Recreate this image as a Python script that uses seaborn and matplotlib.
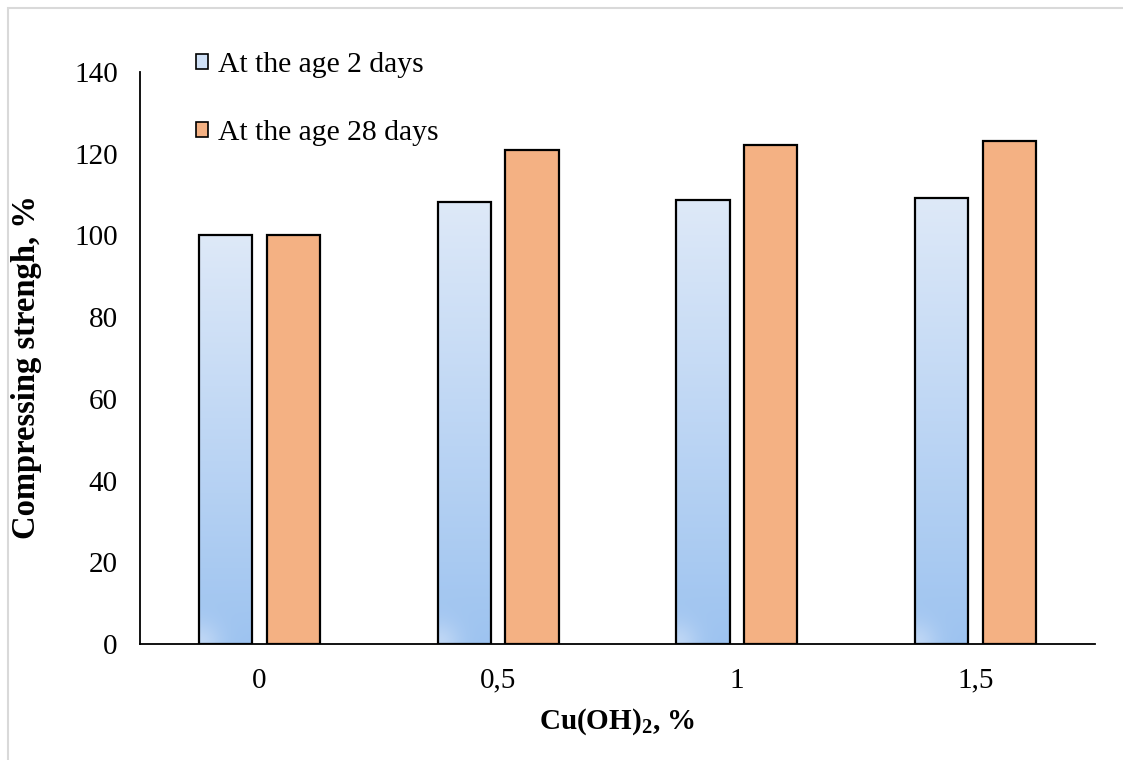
import numpy as np
import pandas as pd
import matplotlib
matplotlib.use("Agg")
import matplotlib.pyplot as plt
import matplotlib.patches as mpatches
import seaborn as sns

# Cu(OH)2 dosage, % and relative compressive strength, %
doses = ["0", "0,5", "1", "1,5"]
age_2_days = [100.0, 108.2, 108.6, 109.1]
age_28_days = [100.0, 121.0, 122.1, 123.1]
series_names = ["At the age 2 days", "At the age 28 days"]

df = pd.DataFrame({
    "dose": doses * 2,
    "value": age_2_days + age_28_days,
    "age": [series_names[0]] * len(doses) + [series_names[1]] * len(doses),
})

sns.set_theme(style="white")
plt.rcParams["font.family"] = ["Liberation Serif", "DejaVu Serif"]
plt.rcParams["text.color"] = "black"
plt.rcParams["axes.labelcolor"] = "black"
plt.rcParams["xtick.color"] = "black"
plt.rcParams["ytick.color"] = "black"
plt.rcParams["mathtext.fontset"] = "custom"
plt.rcParams["mathtext.rm"] = "Liberation Serif:bold"
plt.rcParams["mathtext.bf"] = "Liberation Serif:bold"
plt.rcParams["mathtext.default"] = "bf"

W, H, DPI = 1123, 760, 100
fig = plt.figure(figsize=(W / DPI, H / DPI), dpi=DPI)
fig.patch.set_facecolor("white")
ax = fig.add_axes([140 / W, 1 - 644 / H, (1095 - 140) / W, (644 - 72) / H])

blue_top = np.array([222, 233, 248]) / 255
blue_bot = np.array([157, 195, 240]) / 255
orange = "#f4b183"

sns.barplot(data=df, x="dose", y="value", hue="age", order=doses,
            hue_order=series_names, palette=["#c8dbf4", orange],
            width=0.567, gap=0.214, edgecolor="black", linewidth=1.6,
            saturation=1, legend=False, ax=ax)

ax.set_ylim(0, 140)
ax.set_xlim(-0.5, len(doses) - 0.5)

# Vertical gradient fill for the 2-day bars
px_per_unit = (644 - 72) / 140
for bar in ax.containers[0]:
    x0, w, h = bar.get_x(), bar.get_width(), bar.get_height()
    ny = max(int(h * px_per_unit), 2)
    nx = 60
    t = np.linspace(1, 0, ny)[:, None, None]
    img = blue_bot * (1 - t) + blue_top * t
    img = np.broadcast_to(img, (ny, nx, 3)).copy()
    pxx = np.linspace(0, 53, nx)[None, :]
    pyy = np.linspace(h * px_per_unit, 0, ny)[:, None]
    d = np.sqrt(pxx ** 2 + pyy ** 2)
    wgt = (0.5 * np.exp(-(d / 22) ** 2))[..., None]
    img = img * (1 - wgt) + np.array([0.88, 0.92, 0.98]) * wgt
    im = ax.imshow(img, extent=[x0, x0 + w, 0, h], aspect="auto",
                   zorder=bar.get_zorder() - 0.01, interpolation="bilinear")
    im.set_clip_path(bar)
    bar.set_facecolor("none")

ax.set_ylim(0, 140)
ax.set_xlim(-0.5, len(doses) - 0.5)

ax.set_yticks(np.arange(0, 141, 20))
ax.tick_params(axis="both", length=0, labelsize=21, colors="black")
ax.tick_params(axis="y", pad=16)
ax.tick_params(axis="x", pad=17)
for s in ["top", "right"]:
    ax.spines[s].set_visible(False)
for s in ["left", "bottom"]:
    ax.spines[s].set_color("black")
    ax.spines[s].set_linewidth(1.3)

ax.set_xlabel("Cu(OH)$_2$, %", fontsize=21, fontweight="bold", labelpad=9)
ax.set_ylabel("Compressing strengh, %", fontsize=23.5, fontweight="bold")
ax.yaxis.set_label_coords((42 - 140) / 955, (644 - 367) / 572)

handles = [
    mpatches.Patch(facecolor="#cfe0f6", edgecolor="black", linewidth=1.2),
    mpatches.Patch(facecolor=orange, edgecolor="black", linewidth=1.2),
]
fig.legend(handles, series_names, loc="upper left",
           bbox_to_anchor=(196 / W, 1 - 52 / H), bbox_transform=fig.transFigure,
           frameon=False, fontsize=21.3, handlelength=0.4, handleheight=0.4,
           handletextpad=0.33, labelspacing=1.41, borderpad=0, borderaxespad=0)

# Outer chart frame
fig.add_artist(mpatches.Rectangle((8 / W, -0.1), 1.2, (H - 8) / H + 0.1,
                                  transform=fig.transFigure, fill=False,
                                  edgecolor="#d9d9d9", linewidth=1.5))

fig.savefig("out.png", dpi=DPI, facecolor="white")
